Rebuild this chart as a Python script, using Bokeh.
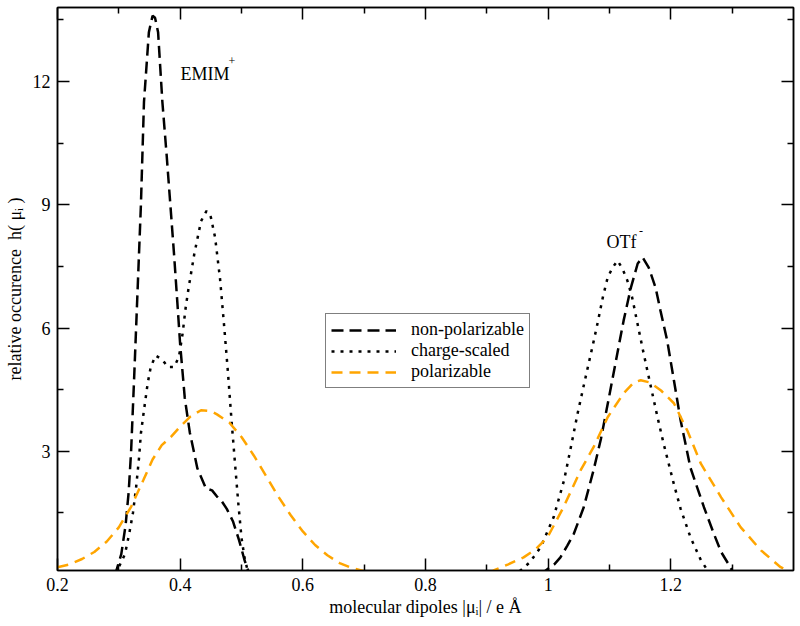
from bokeh.plotting import figure
from bokeh.models import (Range1d, FixedTicker, LinearAxis, Legend, LegendItem, ColumnDataSource,
                          CustomLabelingPolicy)
from bokeh.core.properties import value
from bokeh.embed import file_html
from bokeh.resources import INLINE

FONT = "Liberation Serif"

# ---------------- data ----------------
# EMIM+ , non-polarizable
emim_np_x = [0.29, 0.296, 0.304, 0.311, 0.316, 0.320, 0.325, 0.330, 0.336, 0.341, 0.349, 0.355, 0.359,
             0.364, 0.371, 0.378, 0.384, 0.390, 0.3955, 0.400, 0.4075, 0.4157, 0.428, 0.442, 0.452,
             0.460, 0.468, 0.476, 0.486, 0.496, 0.505, 0.512]
emim_np_y = [0.0, 0.1, 0.5, 1.2, 2.0, 3.0, 4.8, 6.7, 9.0, 11.5, 13.2, 13.6, 13.55,
             13.2, 11.5, 10.2, 9.0, 7.8, 6.6, 5.6, 4.3, 3.46, 2.59, 2.1, 2.05,
             1.9, 1.78, 1.6, 1.3, 0.84, 0.35, 0.05]
# EMIM+ , charge-scaled
emim_cs_x = [0.295, 0.300, 0.310, 0.317, 0.323, 0.328, 0.333, 0.336, 0.341, 0.347, 0.352, 0.360, 0.368,
             0.375, 0.380, 0.390, 0.398, 0.404, 0.409, 0.414, 0.423, 0.434, 0.443, 0.450, 0.457,
             0.465, 0.472, 0.478, 0.484, 0.490, 0.495, 0.500, 0.505, 0.510]
emim_cs_y = [0.0, 0.18, 0.5, 1.0, 1.5, 2.1, 2.85, 3.44, 4.0, 4.65, 5.05, 5.33, 5.26,
             5.15, 5.05, 5.05, 5.3, 5.87, 6.5, 7.0, 7.8, 8.6, 8.85, 8.7, 8.2,
             7.2, 6.0, 4.9, 3.7, 2.6, 1.7, 0.9, 0.4, 0.1]
# EMIM+ , polarizable
emim_po_x = [0.200, 0.220, 0.240, 0.260, 0.280, 0.300, 0.320, 0.340, 0.355, 0.370, 0.385, 0.400, 0.417,
             0.434, 0.450, 0.460, 0.480, 0.500, 0.520, 0.540, 0.560, 0.580, 0.600, 0.620, 0.640,
             0.660, 0.680, 0.700, 0.720]
emim_po_y = [0.18, 0.25, 0.38, 0.55, 0.8, 1.15, 1.65, 2.3, 2.8, 3.15, 3.35, 3.6, 3.85,
             4.0, 3.98, 3.9, 3.7, 3.35, 2.9, 2.4, 1.9, 1.45, 1.05, 0.72, 0.47,
             0.28, 0.16, 0.08, 0.03]
# OTf- , non-polarizable
otf_np_x = [0.985, 0.996, 1.010, 1.020, 1.031, 1.042, 1.058, 1.074, 1.086, 1.099, 1.113, 1.123, 1.135,
            1.146, 1.154, 1.164, 1.175, 1.183, 1.194, 1.205, 1.216, 1.232, 1.254, 1.270, 1.282,
            1.293, 1.300, 1.310]
otf_np_y = [0.0, 0.1, 0.25, 0.42, 0.7, 1.0, 1.64, 2.54, 3.3, 4.3, 5.4, 6.18, 6.99,
            7.57, 7.72, 7.47, 6.99, 6.43, 5.7, 4.73, 3.75, 2.6, 1.64, 1.0, 0.55,
            0.28, 0.1, 0.0]
# OTf- , charge-scaled
otf_cs_x = [0.940, 0.955, 0.970, 0.988, 1.009, 1.026, 1.037, 1.048, 1.058, 1.073, 1.081, 1.089, 1.097,
            1.105, 1.113, 1.121, 1.129, 1.137, 1.143, 1.154, 1.167, 1.178, 1.188, 1.205, 1.216,
            1.232, 1.249, 1.260, 1.270]
otf_cs_y = [0.0, 0.1, 0.3, 0.67, 1.4, 2.3, 3.1, 3.92, 4.6, 5.6, 6.15, 6.74, 7.23,
            7.47, 7.64, 7.45, 7.16, 6.74, 6.3, 5.5, 4.6, 3.85, 3.2, 2.2, 1.6,
            0.91, 0.35, 0.1, 0.0]
# OTf- , polarizable
otf_po_x = [0.905, 0.911, 0.935, 0.960, 0.980, 0.999, 1.025, 1.053, 1.074, 1.097, 1.123, 1.140, 1.151,
            1.165, 1.184, 1.205, 1.227, 1.249, 1.282, 1.314, 1.347, 1.379, 1.390, 1.400]
otf_po_y = [0.0, 0.1, 0.25, 0.42, 0.62, 0.91, 1.64, 2.54, 3.1, 3.83, 4.41, 4.68, 4.73,
            4.68, 4.48, 4.17, 3.5, 2.7, 1.88, 1.15, 0.59, 0.18, 0.1, 0.05]

series_labels = ["non-polarizable", "charge-scaled", "polarizable"]

x_major = [0.2, 0.4, 0.6, 0.8, 1.0, 1.2]
x_minor = [0.3, 0.5, 0.7, 0.9, 1.1, 1.3]
y_major = [3, 6, 9, 12]
y_minor = [1.5, 4.5, 7.5, 10.5, 13.5]

ann_text = ["EMIM", "OTf"]
ann_x = [0.4006, 1.095]
ann_y = [12.19, 8.1]
sup_text = ["+", "-"]
sup_x = [0.479, 1.148]
sup_y = [12.5, 8.35]

x_label = "molecular dipoles |μᵢ| / e Å"
y_label = "relative occurence\u00a0 h( μᵢ )"

# ---------------- figure ----------------
p = figure(width=800, height=626,
           x_range=Range1d(0.2, 1.4), y_range=Range1d(0.1, 13.8),
           output_backend="svg", toolbar_location=None,
           min_border_left=57, min_border_right=7, min_border_top=7, min_border_bottom=56)
p.xgrid.visible = False
p.ygrid.visible = False
p.outline_line_color = "black"
p.outline_line_width = 1.5
p.background_fill_color = "white"
p.border_fill_color = "white"

xt = FixedTicker(ticks=x_major, minor_ticks=x_minor)
yt = FixedTicker(ticks=y_major, minor_ticks=y_minor)


def style_axis(ax, ticker, show_labels):
    ax.ticker = ticker
    ax.major_tick_in = 12
    ax.major_tick_out = 0
    ax.minor_tick_in = 6
    ax.minor_tick_out = 0
    ax.major_tick_line_color = "black"
    ax.minor_tick_line_color = "black"
    ax.major_tick_line_width = 1.5
    ax.minor_tick_line_width = 1.5
    ax.axis_line_color = "black"
    ax.axis_line_width = 1.5
    ax.major_label_text_font = FONT
    ax.major_label_text_color = "black"
    ax.axis_label_text_font = FONT
    ax.axis_label_text_font_style = "normal"
    ax.axis_label_text_color = "black"
    if show_labels:
        ax.major_label_text_font_size = "18px"
        ax.axis_label_text_font_size = "18px"
    else:
        ax.major_label_policy = CustomLabelingPolicy(code="return []")
        ax.major_label_text_font_size = "0px"
        ax.major_label_standoff = 0


style_axis(p.xaxis[0], xt, True)
style_axis(p.yaxis[0], yt, True)
p.xaxis[0].axis_label = x_label
p.yaxis[0].axis_label = y_label
p.xaxis[0].major_label_standoff = 7
p.yaxis[0].major_label_standoff = 7
p.xaxis[0].axis_label_standoff = 3
p.yaxis[0].axis_label_standoff = 5

ax_top = LinearAxis()
style_axis(ax_top, xt, False)
p.add_layout(ax_top, "above")
ax_right = LinearAxis()
style_axis(ax_right, yt, False)
p.add_layout(ax_right, "right")

black_dash = "12 6"
dots = "3 6"
orange_dash = "11 7"
orange = "#ffa500"

r_np1 = p.line(emim_np_x, emim_np_y, line_color="black", line_width=2.5, line_dash=black_dash)
r_np2 = p.line(otf_np_x, otf_np_y, line_color="black", line_width=2.5, line_dash=black_dash)
r_cs1 = p.line(emim_cs_x, emim_cs_y, line_color="black", line_width=2.5, line_dash=dots)
r_cs2 = p.line(otf_cs_x, otf_cs_y, line_color="black", line_width=2.5, line_dash=dots)
r_po1 = p.line(emim_po_x, emim_po_y, line_color=orange, line_width=2.5, line_dash=orange_dash)
r_po2 = p.line(otf_po_x, otf_po_y, line_color=orange, line_width=2.5, line_dash=orange_dash)

ann_src = ColumnDataSource(dict(x=ann_x, y=ann_y, text=ann_text))
p.text(x="x", y="y", text="text", source=ann_src, text_font=value(FONT),
       text_font_size=value("18px"), text_color="black", text_baseline="alphabetic", text_align="left")
sup_src = ColumnDataSource(dict(x=sup_x, y=sup_y, text=sup_text))
p.text(x="x", y="y", text="text", source=sup_src, text_font=value(FONT),
       text_font_size=value("12px"), text_color="black", text_baseline="alphabetic", text_align="left")

legend = Legend(items=[LegendItem(label=series_labels[0], renderers=[r_np1]),
                       LegendItem(label=series_labels[1], renderers=[r_cs1]),
                       LegendItem(label=series_labels[2], renderers=[r_po1])],
                location=(268, 182))
legend.label_text_font = FONT
legend.label_text_font_size = "18px"
legend.label_text_color = "black"
legend.glyph_width = 65
legend.glyph_height = 20
legend.label_height = 20
legend.label_standoff = 15
legend.spacing = 0
legend.padding = 5
legend.margin = 0
legend.border_line_color = "black"
legend.border_line_width = 1.5
legend.background_fill_color = "white"
legend.background_fill_alpha = 1.0
p.add_layout(legend)

open("out.html", "w").write(file_html(p, INLINE))
